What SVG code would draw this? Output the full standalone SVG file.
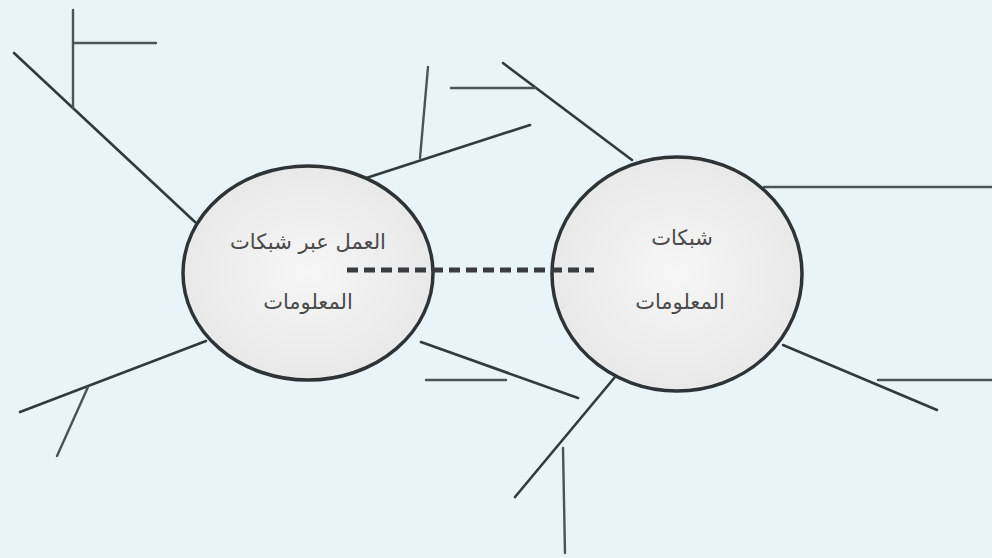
<svg xmlns="http://www.w3.org/2000/svg" width="992" height="558" viewBox="0 0 992 558">
<defs>
<radialGradient id="fill" cx="50%" cy="50%" r="60%">
<stop offset="0" stop-color="#f6f6f6"/>
<stop offset="1" stop-color="#e6e6e6"/>
</radialGradient>
<style>
.ln{stroke:#2f3b3f;stroke-width:2.6;fill:none;stroke-linecap:round}
.br{stroke:#4a5458;stroke-width:2.4;fill:none;stroke-linecap:round}
.node{fill:url(#fill);stroke:#2e3336;stroke-width:3.5}
.lbl{font-family:"DejaVu Sans","Noto Sans",sans-serif;font-size:21px;fill:#4a4a4a;text-anchor:middle;direction:rtl}
.dash{stroke:#383c3e;stroke-width:5;stroke-dasharray:11 6;fill:none}
</style>
</defs>
<rect width="992" height="558" fill="#e9f4f8"/>
<g id="connectors">
<line class="ln" x1="14" y1="53" x2="195" y2="222"/>
<line class="br" x1="73" y1="10" x2="73" y2="108"/>
<line class="br" x1="73" y1="43" x2="156" y2="43"/>
<line class="ln" x1="357" y1="181" x2="530" y2="125"/>
<line class="br" x1="428" y1="67" x2="420" y2="158"/>
<line class="ln" x1="206" y1="341" x2="20" y2="412"/>
<line class="br" x1="88" y1="387" x2="57" y2="456"/>
<line class="ln" x1="421" y1="342" x2="578" y2="398"/>
<line class="br" x1="426" y1="380" x2="506" y2="380"/>
<line class="ln" x1="503" y1="63" x2="632" y2="160"/>
<line class="br" x1="451" y1="88" x2="535" y2="88"/>
<line class="br" x1="764" y1="187" x2="992" y2="187"/>
<line class="ln" x1="783" y1="345" x2="937" y2="410"/>
<line class="br" x1="878" y1="380" x2="992" y2="380"/>
<line class="ln" x1="615" y1="377" x2="515" y2="497"/>
<line class="br" x1="563" y1="448" x2="565" y2="553"/>
</g>
<g id="node-left">
<ellipse class="node" cx="308" cy="273" rx="125" ry="107"/>
<text class="lbl" x="308" y="249">العمل عبر شبكات</text>
<text class="lbl" x="308" y="309">المعلومات</text>
</g>
<g id="node-right">
<ellipse class="node" cx="677" cy="274" rx="125" ry="117"/>
<text class="lbl" x="682" y="245">شبكات</text>
<text class="lbl" x="680" y="309">المعلومات</text>
</g>
<g id="link">
<line class="dash" x1="347" y1="270" x2="594" y2="270"/>
</g>
</svg>
